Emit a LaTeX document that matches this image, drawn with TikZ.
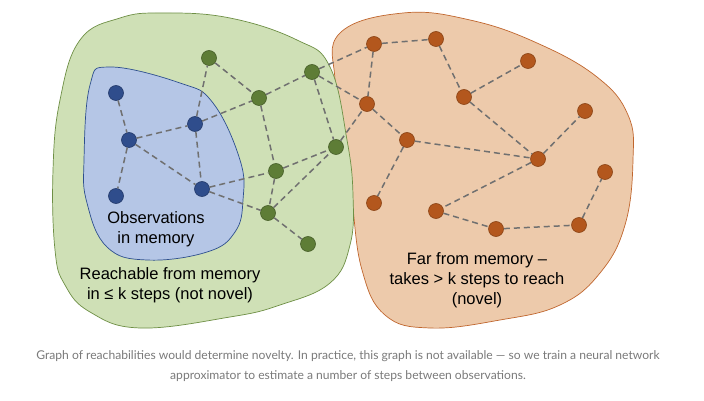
\documentclass[tikz,border=0pt]{standalone}
\usepackage{fontspec}
\setmainfont{Liberation Sans}
\newfontfamily\capfont{Lato}
\begin{document}
\begin{tikzpicture}[x=1pt,y=-1pt,
  blobg/.style={fill=gfill,draw=gline,line width=0.7pt},
  blobo/.style={fill=ofill,draw=oline,line width=0.7pt},
  blobb/.style={fill=bfill,draw=bline,line width=0.7pt},
  vb/.style={circle,minimum size=15pt,inner sep=0pt,fill=bnode,draw=bnodel,line width=0.6pt},
  vg/.style={circle,minimum size=15pt,inner sep=0pt,fill=gnode,draw=gnodel,line width=0.6pt},
  vo/.style={circle,minimum size=15pt,inner sep=0pt,fill=onode,draw=onodel,line width=0.6pt},
  link/.style={draw=edgec,line width=1.5pt,dash pattern=on 6pt off 4pt},
  lbl/.style={font=\fontsize{16.5}{20}\selectfont,text=black,align=center,inner sep=0pt},
  capt/.style={font=\capfont\fontsize{12.1}{20}\selectfont,text=capc,inner sep=0pt}]
\definecolor{gfill}{HTML}{CFE0B6}
\definecolor{gline}{HTML}{6E8F45}
\definecolor{ofill}{HTML}{EDCAAB}
\definecolor{oline}{HTML}{C0662E}
\definecolor{bfill}{HTML}{B5C6E6}
\definecolor{bline}{HTML}{2E4F8E}
\definecolor{bnode}{HTML}{2F4D8C}
\definecolor{bnodel}{HTML}{22396A}
\definecolor{gnode}{HTML}{5E7D36}
\definecolor{gnodel}{HTML}{465E28}
\definecolor{onode}{HTML}{B3571D}
\definecolor{onodel}{HTML}{8A4214}
\definecolor{edgec}{HTML}{707070}
\definecolor{capc}{HTML}{7A7A7A}
\useasboundingbox (0,0) rectangle (704,401);
\fill[white] (0,0) rectangle (704,401);
% blobs
\draw[blobo] plot[smooth cycle,tension=0.7] coordinates {(340,33) (403,13) (470,20) (537,43) (597,77) (628,115) (633,160) (625,225) (600,273) (560,305) (500,320) (430,328) (385,315) (362,270) (352,200) (345,140) (335,80)};
\draw[blobg] plot[smooth cycle,tension=0.7] coordinates {(163,13) (230,18) (297,40) (330,67) (347,140) (353,195) (350,245) (330,283) (280,305) (230,317) (140,328) (90,312) (65,285) (55,250) (53,170) (60,100) (80,40) (120,18)};
\draw[blobb] plot[smooth cycle,tension=0.7] coordinates {(110,67) (180,83) (213,103) (240,160) (243,200) (235,232) (207,252) (147,260) (107,247) (87,203) (84,160) (90,85)};
% nodes
\node[vb] (b1) at (116,93) {};
\node[vb] (b2) at (129,140) {};
\node[vb] (b3) at (195,124) {};
\node[vb] (b4) at (116,196) {};
\node[vb] (b5) at (202,189) {};
\node[vg] (g1) at (209,58) {};
\node[vg] (g2) at (259,98) {};
\node[vg] (g3) at (312,72) {};
\node[vg] (g4) at (336,147) {};
\node[vg] (g5) at (276,171) {};
\node[vg] (g6) at (268,213) {};
\node[vg] (g7) at (308,244) {};
\node[vo] (o1) at (374,44) {};
\node[vo] (o2) at (436,39) {};
\node[vo] (o3) at (528,61) {};
\node[vo] (o4) at (464,97) {};
\node[vo] (o5) at (367,104) {};
\node[vo] (o6) at (407,140) {};
\node[vo] (o7) at (585,111) {};
\node[vo] (o8) at (538,159) {};
\node[vo] (o9) at (605,172) {};
\node[vo] (o10) at (374,203) {};
\node[vo] (o11) at (436,211) {};
\node[vo] (o12) at (496,229) {};
\node[vo] (o13) at (579,225) {};
% edges
\foreach \a/\b in {b1/b2,b2/b4,b2/b3,b2/b5,b3/b5,b3/g1,b3/g2,b5/g5,b5/g6,
  g1/g2,g2/g3,g2/g5,g3/g4,g3/o1,g3/o5,g4/o5,g5/g4,g5/g6,g6/g4,g6/g7,
  o1/o2,o1/o5,o2/o4,o4/o3,o4/o8,o5/o6,o6/o8,o6/o10,o8/o7,o8/o11,o11/o12,o12/o13,o13/o9}
  \draw[link] (\a) -- (\b);
% labels
\node[lbl] (tb) at (156,229) {Observations\\in memory};
\node[lbl] (tg) at (170,285) {Reachable from memory\\in ≤ k steps (not novel)};
\node[lbl] (to) at (477,280) {Far from memory –\\takes > k steps to reach\\(novel)};
\node[capt] (c1) at (348,356) {Graph of reachabilities would determine novelty. In practice, this graph is not available — so we train a neural network};
\node[capt] (c2) at (348,376) {approximator to estimate a number of steps between observations.};
\end{tikzpicture}
\end{document}
